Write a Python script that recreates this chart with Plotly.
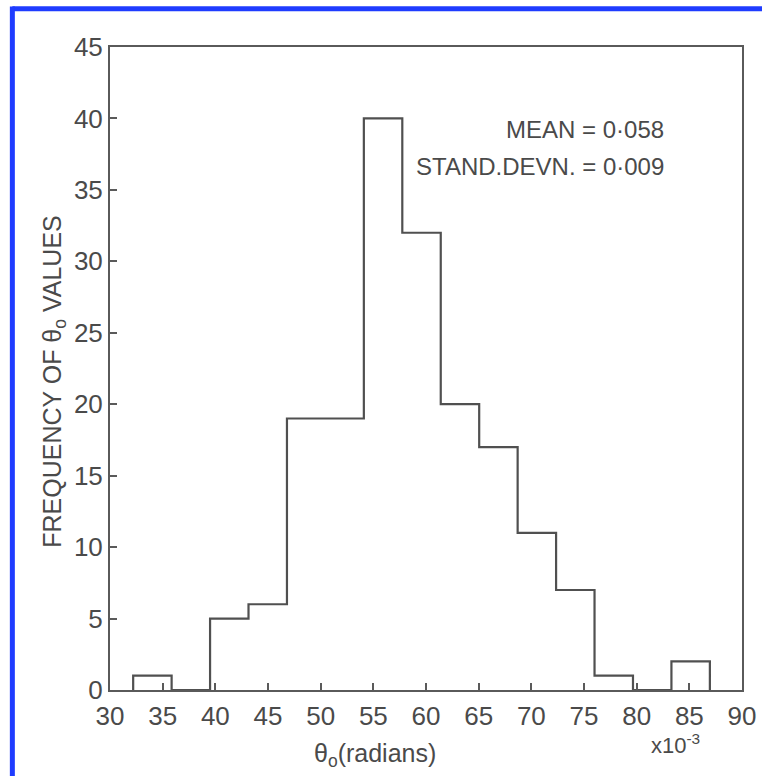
import plotly.graph_objects as go

# bin edges (x10^-3 radians) and frequencies
bin_edges = [32.2, 35.85, 39.5, 43.15, 46.8, 54.1, 57.75, 61.4, 65.05, 68.7, 72.35, 76.0, 79.65, 83.3, 86.95]
counts = [1, 0, 5, 6, 19, 40, 32, 20, 17, 11, 7, 1, 0, 2]

x_ticks = [30, 35, 40, 45, 50, 55, 60, 65, 70, 75, 80, 85, 90]
y_ticks = [0, 5, 10, 15, 20, 25, 30, 35, 40, 45]

mean_text = "MEAN = 0·058"
sd_text = "STAND.DEVN. = 0·009"

FONT = "Liberation Sans Narrow, Liberation Sans, Arial, sans-serif"
INK = "#4a4a4a"

# step outline
xs = [bin_edges[0]] + bin_edges
ys = [0] + counts + [0]

fig = go.Figure()
fig.add_trace(go.Scatter(
    x=xs, y=ys, mode="lines", line=dict(shape="hv", color="#505050", width=2.2),
    hoverinfo="skip", showlegend=False,
))

axis_common = dict(
    showline=True, linecolor="#5a5a5a", linewidth=2, mirror=True,
    ticks="inside", ticklen=7, tickwidth=1.5, tickcolor="#5a5a5a",
    showgrid=False, zeroline=False, automargin=False,
    tickfont=dict(family=FONT, size=26, color=INK),
)

fig.update_layout(
    width=762, height=776,
    margin=dict(l=110, r=20, t=47, b=86),
    paper_bgcolor="white", plot_bgcolor="white",
    xaxis=dict(range=[30, 90], tickvals=x_ticks, ticktext=[str(v) for v in x_ticks],
               ticklabelstandoff=2, **axis_common),
    yaxis=dict(range=[0, 45], tickvals=y_ticks, ticktext=[str(v) for v in y_ticks],
               ticklabelstandoff=0, **axis_common),
    showlegend=False,
)

ann_font = dict(family=FONT, size=24, color=INK)
fig.add_annotation(xref="paper", yref="paper", x=0.880, y=0.872, text=mean_text,
                   showarrow=False, xanchor="right", yanchor="middle", font=ann_font)
fig.add_annotation(xref="paper", yref="paper", x=0.880, y=0.814, text=sd_text,
                   showarrow=False, xanchor="right", yanchor="middle", font=ann_font)
fig.add_annotation(xref="paper", yref="paper", x=-0.088, y=0.48,
                   text="FREQUENCY OF θ<sub>o</sub> VALUES", textangle=-90,
                   showarrow=False, xanchor="center", yanchor="middle",
                   font=dict(family=FONT, size=25, color=INK))
fig.add_annotation(xref="paper", yref="paper", x=0.42, y=-0.101,
                   text="θ<sub>o</sub>(radians)",
                   showarrow=False, xanchor="center", yanchor="middle",
                   font=dict(family=FONT, size=25, color=INK))
fig.add_annotation(xref="paper", yref="paper", x=0.894, y=-0.084,
                   text="x10<sup>-3</sup>",
                   showarrow=False, xanchor="center", yanchor="middle",
                   font=dict(family=FONT, size=22, color=INK))

# blue frame (top and left edges of the scanned page)
BLUE = "#1f3cff"
fig.add_shape(type="line", xref="paper", yref="paper",
              x0=-0.1545, x1=1.05, y0=1.0595, y1=1.0595,
              line=dict(color=BLUE, width=5))
fig.add_shape(type="line", xref="paper", yref="paper",
              x0=-0.1545, x1=-0.1545, y0=1.063, y1=-0.16,
              line=dict(color=BLUE, width=5))

fig.write_html("out.html", config={"displayModeBar": False},
               post_script="document.body.style.margin='0';")
